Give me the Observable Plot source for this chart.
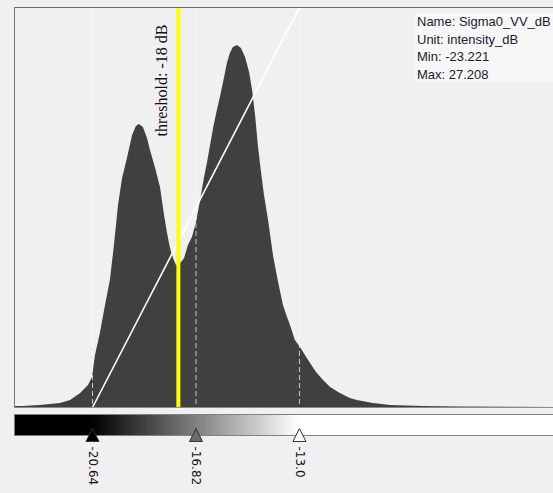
<!DOCTYPE html>
<html>
<head>
<meta charset="utf-8">
<script src="https://cdn.jsdelivr.net/npm/d3@7"></script>
<script src="https://cdn.jsdelivr.net/npm/@observablehq/plot@0.6"></script>
<style>
  html, body { margin: 0; padding: 0; background: #f0f0f0; }
  #wrap { position: relative; width: 553px; height: 493px; overflow: hidden; background: #f0f0f0; }
  #wrap svg { display: block; }
  #info { position: absolute; left: 415px; top: 13px; width: 138px; height: 69px; background: #f7f7f7;
          font-family: "Liberation Sans", Arial, sans-serif; font-size: 13px; line-height: 17.5px; color: #1a1a30;
          padding-left: 2px; box-sizing: border-box; white-space: nowrap; }
</style>
</head>
<body>
<div id="wrap"><div id="info"></div></div>
<script>
// Histogram of Sigma0_VV_dB (bin centre in dB, relative count)
const binDb = [-23.52, -23.22, -22.56, -21.82, -21.45, -21.08, -20.79, -20.64, -20.53, -20.35, -20.16,
  -19.98, -19.83, -19.68, -19.53, -19.35, -19.16, -19.02, -18.91, -18.76, -18.61, -18.50, -18.31,
  -18.13, -17.98, -17.87, -17.76, -17.65, -17.54, -17.47, -17.35, -17.24, -17.10, -16.95, -16.80,
  -16.65, -16.51, -16.40, -16.28, -16.17, -16.03, -15.92, -15.77, -15.66, -15.55, -15.44, -15.29,
  -15.14, -14.99, -14.84, -14.73, -14.62, -14.51, -14.40, -14.29, -14.14, -13.96, -13.77, -13.59,
  -13.44, -13.33, -13.15, -12.96, -12.78, -12.59, -12.37, -12.11, -11.85, -11.49, -11.12, -10.86,
  -10.27, -9.64, -8.42, -7.06, -3.62];
const binCount = [1, 1, 2, 4, 7, 14, 22, 30, 52, 74, 102,
  127, 162, 202, 229, 249, 272, 281, 283, 280, 269, 257, 239,
  220, 192, 174, 159, 149, 142, 142, 145, 149, 162, 170, 185,
  207, 229, 244, 262, 279, 297, 310, 329, 344, 354, 360, 362,
  359, 350, 335, 317, 292, 260, 235, 212, 187, 152, 125, 102,
  90, 82, 67, 60, 52, 44, 35, 27, 20, 14, 9, 7,
  4, 2, 1, 0.5, 0];

const xDomain = [-23.52, -3.62];
const yMax = 400;

// colour palette stops
const colorStops = [-20.64, -16.82, -13.0];
const stopLabels = ["-20.64", "-16.82", "-13.0"];
const stopColors = ["#000000", "#808080", "#ffffff"];
const markerFills = ["#000000", "#6b6b6b", "#ffffff"];

// threshold
const thresholdLine = -17.47;
const thresholdLabelX = -18.3;
const thresholdLabel = "threshold: -18 dB";

const infoLines = ["Name: Sigma0_VV_dB", "Unit: intensity_dB", "Min: -23.221", "Max: 27.208"];

const hist = binDb.map((d, i) => ({db: d, count: binCount[i]}));
const ramp = [{db: colorStops[0], v: 0}, {db: colorStops[2], v: yMax}];

const main = Plot.plot({
  width: 553, height: 410,
  marginLeft: 14, marginRight: 0, marginTop: 7, marginBottom: 3,
  style: {background: "#f0f0f0", overflow: "hidden"},
  x: {domain: xDomain, axis: null},
  y: {domain: [0, yMax], axis: null},
  marks: [
    Plot.areaY(hist, {x: "db", y: "count", fill: "#404040", curve: "linear"}),
    Plot.ruleX(colorStops, {stroke: "#ffffff", strokeOpacity: 0.7, strokeDasharray: "5,3", strokeWidth: 1}),
    Plot.line(ramp, {x: "db", y: "v", stroke: "#ffffff", strokeWidth: 1.6}),
    Plot.ruleX([thresholdLine], {stroke: "#ffff00", strokeWidth: 4}),
    Plot.text([thresholdLabel], {x: () => thresholdLabelX, frameAnchor: "top", dy: 73, text: d => d,
      rotate: -90, fontFamily: "Liberation Serif", fontSize: 16, fill: "#111111"}),
    Plot.ruleY([yMax], {stroke: "#6a6a6a"}),
    Plot.ruleY([0], {stroke: "#8a8a8a"}),
    Plot.ruleX([xDomain[0]], {stroke: "#7a7a7a"})
  ]
});

const tri = {draw(ctx) { ctx.moveTo(0, -7); ctx.lineTo(6.5, 6); ctx.lineTo(-6.5, 6); ctx.closePath(); }};
const step = 0.04;
const cells = d3.range(xDomain[0], xDomain[1], step).map(x => ({x1: x, x2: x + step + 0.01, c: x + step / 2}));

const bar = Plot.plot({
  width: 553, height: 83,
  marginLeft: 14, marginRight: 0, marginTop: 4, marginBottom: 58,
  style: {background: "#f0f0f0", overflow: "visible"},
  x: {domain: xDomain, axis: null},
  y: {domain: [0, 1], axis: null},
  color: {type: "linear", domain: colorStops, range: stopColors, interpolate: "rgb", clamp: true},
  marks: [
    Plot.rect(cells, {x1: "x1", x2: "x2", y1: 0, y2: 1, fill: "c", shapeRendering: "crispEdges"}),
    Plot.ruleY([0, 1], {stroke: "#808080"}),
    Plot.ruleX([xDomain[0]], {stroke: "#808080"}),
    ...colorStops.map((v, i) => Plot.dot([v], {x: d => d, y: () => 0, symbol: tri, fill: markerFills[i], stroke: "#333333", strokeWidth: 1})),
    Plot.text(colorStops, {x: d => d, y: () => 0, text: (d, i) => stopLabels[i], rotate: 90, textAnchor: "start",
      dy: 11, fontFamily: "DejaVu Sans", fontSize: 12, fill: "#111111"})
  ]
});

const wrap = document.getElementById("wrap");
wrap.insertBefore(bar, wrap.firstChild);
wrap.insertBefore(main, bar);
document.getElementById("info").innerHTML = infoLines.map(t => `<div>${t}</div>`).join("");
</script>
</body>
</html>
